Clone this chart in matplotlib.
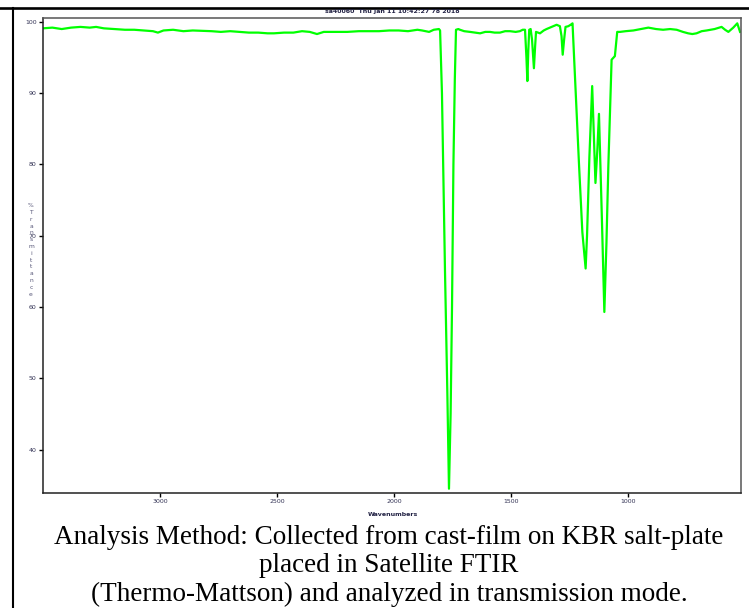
import matplotlib
matplotlib.use('Agg')
import matplotlib.pyplot as plt
from matplotlib.lines import Line2D

# spectrum (wavenumber, %T)
wavenumber = [3500, 3460, 3420, 3380, 3340, 3300, 3273, 3240, 3192, 3150,
              3110, 3068, 3030, 3009, 2985, 2944, 2900, 2860, 2821, 2780,
              2740, 2700, 2658, 2620, 2580, 2540, 2513, 2470, 2430, 2393,
              2360, 2329, 2300, 2270, 2248, 2200, 2150, 2100, 2064, 2020,
              1980, 1940, 1900, 1880, 1850, 1830, 1808, 1803, 1795, 1782,
              1772, 1765, 1758, 1752, 1746, 1740, 1735, 1725, 1718, 1700,
              1675, 1655, 1632, 1610, 1590, 1570, 1547, 1525, 1504, 1480,
              1462, 1450, 1440, 1434, 1430, 1426, 1422, 1416, 1410, 1402,
              1397, 1393, 1376, 1360, 1348, 1326, 1305, 1291, 1284, 1279,
              1273, 1267, 1255, 1245, 1237, 1222, 1209, 1195, 1181, 1175,
              1165, 1153, 1146, 1139, 1131, 1124, 1112, 1101, 1092, 1084,
              1070, 1056, 1046, 1034, 1010, 977, 945, 913, 880, 850,
              820, 792, 765, 743, 725, 707, 685, 664, 630, 600,
              585, 571, 550, 533, 521]
transmittance = [99.1, 99.2, 99.0, 99.2, 99.3, 99.2, 99.3, 99.1, 99.0, 98.9,
                 98.9, 98.8, 98.7, 98.5, 98.8, 98.9, 98.7, 98.8, 98.75, 98.7,
                 98.6, 98.7, 98.6, 98.5, 98.5, 98.4, 98.4, 98.5, 98.5, 98.7,
                 98.6, 98.3, 98.6, 98.6, 98.6, 98.6, 98.7, 98.7, 98.7, 98.8,
                 98.8, 98.7, 98.9, 98.8, 98.6, 98.9, 99.0, 98.8, 90.0, 65.0,
                 48.0, 34.5, 45.0, 60.0, 80.0, 92.0, 98.9, 99.0, 98.9, 98.7,
                 98.6, 98.5, 98.4, 98.6, 98.6, 98.5, 98.5, 98.7, 98.7, 98.6,
                 98.7, 98.9, 98.9, 95.0, 91.7, 96.0, 98.9, 99.0, 97.5, 93.5,
                 96.5, 98.6, 98.4, 98.8, 99.0, 99.3, 99.6, 99.4, 98.0, 95.4,
                 97.5, 99.3, 99.4, 99.6, 99.8, 89.1, 79.8, 70.5, 65.4, 70.0,
                 81.0, 91.0, 84.0, 77.4, 82.0, 87.1, 73.0, 59.3, 69.0, 79.7,
                 94.7, 95.2, 98.6, 98.6, 98.7, 98.8, 99.0, 99.2, 99.0, 98.9,
                 99.0, 98.9, 98.6, 98.4, 98.3, 98.4, 98.7, 98.8, 99.0, 99.3,
                 98.9, 98.6, 99.2, 99.8, 98.6]

x_ticks = [3000, 2500, 2000, 1500, 1000]
y_ticks = [100, 90, 80, 70, 60, 50, 40]

title = 'sa40060  Thu Jan 11 10:42:27 78 2018'
caption = ['Analysis Method: Collected from cast-film on KBR salt-plate',
           'placed in Satellite FTIR',
           '(Thermo-Mattson) and analyzed in transmission mode.']

W, H = 749, 608
fig = plt.figure(figsize=(W / 100, H / 100), dpi=100)

# plot box in pixels: left 43, right 741, top 18, bottom 493
ax = fig.add_axes([43 / W, 1 - 493 / H, 698 / W, 475 / H])
ax.plot(wavenumber, transmittance, color='#00ff00', lw=1.6)
ax.set_xlim(3500, 517)
ax.set_ylim(33.9, 100.55)
ax.set_xticks(x_ticks)
ax.set_yticks(y_ticks)
ax.tick_params(direction='out', length=3, width=1, labelsize=4.5,
               labelcolor='#333355', pad=1.5)
for s in ['top', 'right']:
    ax.spines[s].set_color('#555555')
for s in ax.spines.values():
    s.set_linewidth(1.1)
ax.spines['left'].set_color('#222222')
ax.spines['bottom'].set_color('#222222')

fig.text(392 / W, 1 - 11 / H, title, ha='center', va='center',
         fontsize=4.5, color='#222244', fontweight='bold')
fig.text(393 / W, 1 - 514 / H, 'Wavenumbers', ha='center', va='center',
         fontsize=4.5, color='#222244', fontweight='bold')
fig.text(31 / W, 1 - 250 / H, '\n'.join('%Transmittance'), ha='center',
         va='center', fontsize=4.3, color='#555577', linespacing=1.45)

for i, line in enumerate(caption):
    fig.text(389 / W, 1 - (537 + i * 28.5) / H, line, ha='center',
             va='center', fontsize=19.5, family='Liberation Serif',
             color='black')

# table border around the figure
fig.add_artist(Line2D([0, 1], [1 - 7.5 / H, 1 - 7.5 / H],
                      transform=fig.transFigure, color='black', lw=1.9))
fig.add_artist(Line2D([13 / W, 13 / W], [0, 1 - 7.5 / H],
                      transform=fig.transFigure, color='black', lw=1.5))

fig.savefig('out.png', dpi=100)
